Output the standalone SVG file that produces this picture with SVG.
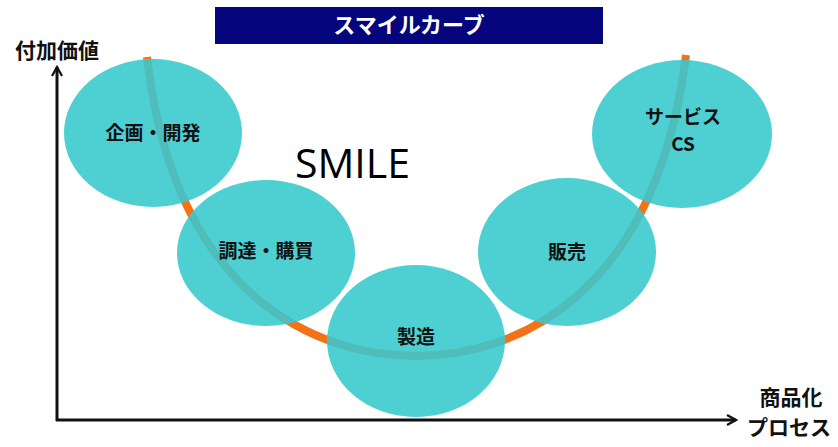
<svg xmlns="http://www.w3.org/2000/svg" width="838" height="447" viewBox="0 0 838 447">
<style>
.node{fill:#4ecfd1}
.lbl{font-family:"Noto Sans CJK JP","Liberation Sans",sans-serif;font-weight:bold;font-size:19px;fill:#111;text-anchor:middle}
.ax{font-family:"Noto Sans CJK JP","Liberation Sans",sans-serif;font-weight:bold;font-size:21px;fill:#111;text-anchor:middle}
.axis{stroke:#111;stroke-width:3;fill:none}
</style>
<defs>
<marker id="arr" viewBox="0 0 12 12" refX="10" refY="6" markerWidth="12" markerHeight="12" markerUnits="userSpaceOnUse" orient="auto">
<path d="M1,1 L10,6 L1,11" fill="none" stroke="#111" stroke-width="2.2"/>
</marker>
<clipPath id="circles">
<ellipse cx="153" cy="133" rx="89" ry="74"/>
<ellipse cx="682" cy="134" rx="90" ry="74"/>
<ellipse cx="266" cy="253" rx="89" ry="73"/>
<ellipse cx="567" cy="252" rx="89" ry="74"/>
<ellipse cx="416" cy="341" rx="89" ry="76"/>
</clipPath>
</defs>
<rect width="838" height="447" fill="#fff"/>
<g id="title">
<rect x="215" y="7" width="388" height="37" fill="#05057e"/>
<text x="409" y="33" font-family="'Noto Sans CJK JP','Liberation Sans',sans-serif" font-weight="bold" font-size="22" fill="#fff" text-anchor="middle">スマイルカーブ</text>
</g>
<g id="connectors">
<path class="axis" d="M57,421 L57,67" marker-end="url(#arr)"/>
<path class="axis" d="M56,420 L736,420" marker-end="url(#arr)"/>
<path id="curve" d="M147,57 C175,300 320,356 416,356 C512,356 655,300 686,55" fill="none" stroke="#f47216" stroke-width="8"/>
</g>
<g id="axis-labels">
<text class="ax" x="57" y="58">付加価値</text>
<text class="ax" x="791" y="405" font-size="20">商品化</text>
<text class="ax" x="789" y="435" font-size="20">プロセス</text>
</g>
<g id="node-kikaku"><ellipse class="node" cx="153" cy="133" rx="89" ry="74"/></g>
<g id="node-service"><ellipse class="node" cx="682" cy="134" rx="90" ry="74"/></g>
<g id="node-chotatsu"><ellipse class="node" cx="266" cy="253" rx="89" ry="73"/></g>
<g id="node-hanbai"><ellipse class="node" cx="567" cy="252" rx="89" ry="74"/></g>
<g id="node-seizo"><ellipse class="node" cx="416" cy="341" rx="89" ry="76"/></g>
<g id="curve-overlay" clip-path="url(#circles)">
<path d="M147,57 C175,300 320,356 416,356 C512,356 655,300 686,55" fill="none" stroke="#4fbdb9" stroke-width="8"/>
</g>
<g id="labels">
<text class="lbl" x="153" y="140">企画・開発</text>
<text class="lbl" x="683" y="124">サービス</text>
<text class="lbl" x="683" y="151">CS</text>
<text class="lbl" x="266" y="258">調達・購買</text>
<text class="lbl" x="567" y="259">販売</text>
<text class="lbl" x="416" y="344">製造</text>
</g>
<text x="295" y="178" font-family="'Open Sans','Liberation Sans',sans-serif" font-size="40" fill="#000" textLength="115" lengthAdjust="spacingAndGlyphs">SMILE</text>
</svg>
